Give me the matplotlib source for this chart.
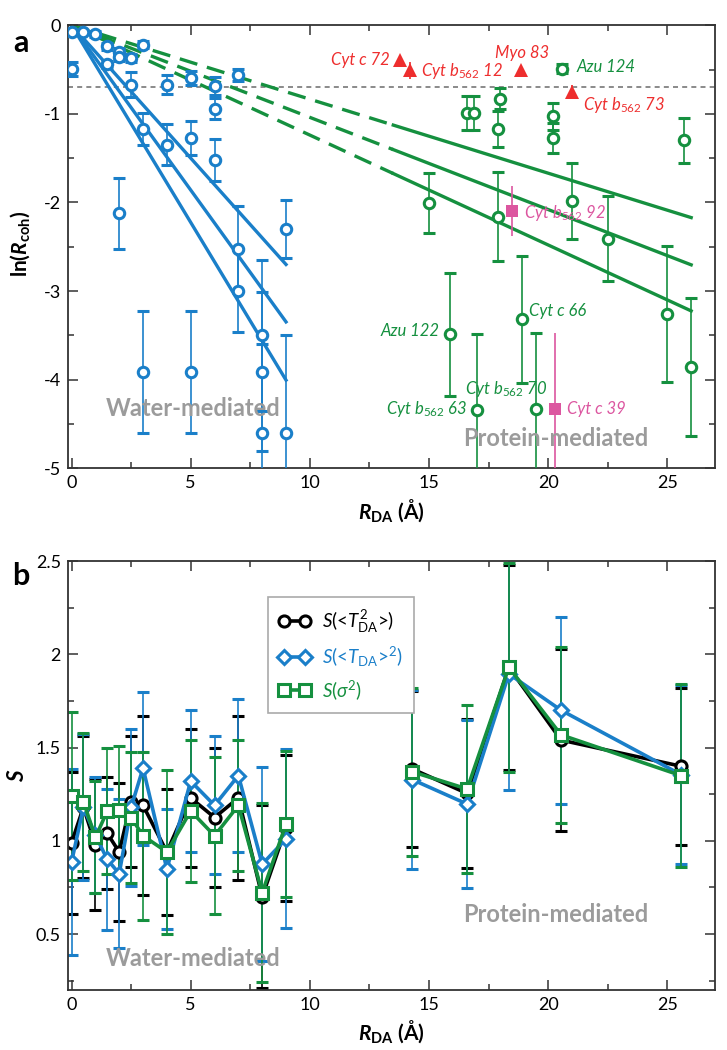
import numpy as np
import matplotlib
matplotlib.use('Agg')
import matplotlib.pyplot as plt
from matplotlib.lines import Line2D
from matplotlib.ticker import MultipleLocator, FuncFormatter

plt.rcParams['font.family'] = ['Lato', 'DejaVu Sans']
plt.rcParams['mathtext.fontset'] = 'custom'
plt.rcParams['mathtext.rm'] = 'Lato'
plt.rcParams['mathtext.it'] = 'Lato:italic'
plt.rcParams['mathtext.bf'] = 'Lato:bold'
plt.rcParams['mathtext.bfit'] = 'Lato:bold:italic'
plt.rcParams['axes.unicode_minus'] = False

BLUE = '#1a7fc9'
GREEN = '#15903f'
RED = '#ee2e2e'
MAGENTA = '#dc56a0'
GRAY = '#9b9b9b'

# ---- panel a data ----
water_r = [0.0, 0.0, 0.5, 1.0, 1.5, 1.5, 2.0, 2.0, 2.0, 2.5, 2.5, 3.0, 3.0, 3.0, 4.0, 4.0,
           5.0, 5.0, 5.0, 6.0, 6.0, 6.0, 7.0, 7.0, 7.0, 8.0, 8.0, 8.0, 9.0, 9.0]
water_ln = [-0.08, -0.49, -0.08, -0.10, -0.24, -0.44, -0.30, -0.36, -2.12, -0.37, -0.67, -0.22,
            -1.17, -3.91, -0.67, -1.35, -0.60, -1.27, -3.91, -0.69, -0.94, -1.52, -0.56, -2.52,
            -3.00, -3.50, -3.91, -4.60, -2.30, -4.60]
water_err = [0.02, 0.08, 0.02, 0.03, 0.04, 0.04, 0.04, 0.04, 0.40, 0.05, 0.14, 0.04, 0.18, 0.69,
             0.11, 0.23, 0.08, 0.19, 0.69, 0.10, 0.12, 0.24, 0.07, 0.48, 0.46, 0.85, 0.90, 1.00,
             0.33, 1.10]

prot_r = [20.6, 16.6, 16.9, 17.97, 17.9, 20.2, 20.2, 25.7, 15.0, 17.9, 21.0, 22.5, 25.0, 26.0,
          15.9, 18.9, 17.0, 19.5]
prot_ln = [-0.49, -0.99, -0.99, -0.83, -1.17, -1.03, -1.27, -1.30, -2.01, -2.16, -1.98, -2.41,
           -3.26, -3.86, -3.49, -3.32, -4.34, -4.33]
prot_err = [0.05, 0.19, 0.19, 0.12, 0.20, 0.15, 0.17, 0.25, 0.34, 0.50, 0.43, 0.48, 0.77, 0.78,
            0.69, 0.72, 0.86, 0.86]

red_r = [13.8, 14.2, 18.86, 21.0]
red_ln = [-0.39, -0.51, -0.51, -0.75]
red_err = [0.05, 0.10, 0.05, 0.07]

mag_r = [18.5, 20.3]
mag_ln = [-2.10, -4.33]
mag_err = [0.28, 0.86]

water_slopes = [-0.300, -0.372, -0.445]
prot_slopes = [-0.0835, -0.104, -0.124]

# ---- panel b data ----
bw_x = [0, 0.5, 1, 1.5, 2, 2.5, 3, 4, 5, 6, 7, 8, 9]
bp_x = [14.3, 16.6, 18.35, 20.54, 25.57]

sT2_w = [0.99, 1.18, 0.98, 1.04, 0.94, 1.21, 1.19, 0.94, 1.23, 1.125, 1.23, 0.70, 1.07]
sT2_w_err = [0.38, 0.38, 0.35, 0.30, 0.37, 0.35, 0.48, 0.34, 0.37, 0.37, 0.44, 0.49, 0.39]
sT2_p = [1.385, 1.254, 1.93, 1.54, 1.40]
sT2_p_err = [0.42, 0.40, 0.55, 0.49, 0.42]

sTsq_w = [0.887, 1.18, 1.03, 0.90, 0.824, 1.18, 1.39, 0.848, 1.32, 1.19, 1.35, 0.875, 1.01]
sTsq_w_err = [0.50, 0.39, 0.31, 0.38, 0.40, 0.42, 0.41, 0.32, 0.38, 0.37, 0.41, 0.52, 0.48]
sTsq_p = [1.328, 1.197, 1.895, 1.70, 1.355]
sTsq_p_err = [0.48, 0.45, 0.62, 0.50, 0.48]

ssig_w = [1.238, 1.21, 1.018, 1.16, 1.167, 1.125, 1.027, 0.94, 1.16, 1.027, 1.19, 0.722, 1.09]
ssig_w_err = [0.45, 0.37, 0.30, 0.34, 0.34, 0.35, 0.45, 0.44, 0.38, 0.42, 0.35, 0.48, 0.39]
ssig_p = [1.37, 1.278, 1.93, 1.568, 1.35]
ssig_p_err = [0.45, 0.45, 0.56, 0.47, 0.49]

fig = plt.figure(figsize=(7.27, 10.5), dpi=100)
axa = fig.add_axes([0.0935, 0.554, 0.890, 0.422])
axb = fig.add_axes([0.0935, 0.0571, 0.890, 0.4086])


def style_axis(ax):
    ax.tick_params(which='both', direction='in', top=True, right=True, width=1.1,
                   color='#333333', labelsize=13)
    ax.tick_params(which='major', length=7, pad=5)
    ax.tick_params(which='minor', length=4)
    for s in ax.spines.values():
        s.set_color('#333333')
        s.set_linewidth(1.3)


# ---------- panel a ----------
axa.axhline(np.log(0.5), color='#777777', lw=1.2, ls=(0, (3, 2.5)), zorder=1)

rw = np.array([0, 9])
for s in water_slopes:
    axa.plot(rw, s * rw, color=BLUE, lw=2.4, zorder=2)
rd = np.array([0, 13.5])
rs = np.array([13.5, 26])
for s in prot_slopes:
    axa.plot(rd, s * rd, color=GREEN, lw=2.4, dashes=(5.5, 3), zorder=2)
    axa.plot(rs, s * rs, color=GREEN, lw=2.4, zorder=2)

ekw = dict(elinewidth=1.2, capsize=4, capthick=1.2, zorder=3)
axa.errorbar(water_r, water_ln, yerr=water_err, fmt='o', color=BLUE, mfc='white',
             ms=7.5, mew=2.2, **ekw)
axa.errorbar(prot_r, prot_ln, yerr=prot_err, fmt='o', color=GREEN, mfc='white',
             ms=7.5, mew=2.2, **ekw)
axa.errorbar(red_r, red_ln, yerr=red_err, fmt='^', color=RED, ms=10, mew=0, **ekw)
axa.errorbar(mag_r, mag_ln, yerr=mag_err, fmt='s', color=MAGENTA, ms=8.5, mew=0, **ekw)

lab = dict(fontsize=12, style='italic', va='center')
axa.text(13.35, -0.39, 'Cyt c 72', color=RED, ha='right', **lab)
axa.text(14.65, -0.52, r'Cyt b$_{\mathit{562}}$ 12', color=RED, ha='left', **lab)
axa.text(18.9, -0.31, 'Myo 83', color=RED, ha='center', **lab)
axa.text(21.2, -0.47, 'Azu 124', color=GREEN, ha='left', **lab)
axa.text(21.45, -0.90, r'Cyt b$_{\mathit{562}}$ 73', color=RED, ha='left', **lab)
axa.text(19.0, -2.12, r'Cyt b$_{\mathit{562}}$ 92', color=MAGENTA, ha='left', **lab)
axa.text(15.45, -3.45, 'Azu 122', color=GREEN, ha='right', **lab)
axa.text(19.2, -3.22, 'Cyt c 66', color=GREEN, ha='left', **lab)
axa.text(16.6, -4.33, r'Cyt b$_{\mathit{562}}$ 63', color=GREEN, ha='right', **lab)
axa.text(19.95, -4.10, r'Cyt b$_{\mathit{562}}$ 70', color=GREEN, ha='right', **lab)
axa.text(20.8, -4.33, 'Cyt c 39', color=MAGENTA, ha='left', **lab)

axa.text(5.1, -4.32, 'Water-mediated', color=GRAY, fontsize=17, fontweight='bold',
         ha='center', va='center')
axa.text(20.3, -4.66, 'Protein-mediated', color=GRAY, fontsize=17, fontweight='bold',
         ha='center', va='center')

axa.set_xlim(-0.15, 27)
axa.set_ylim(-5, 0)
axa.xaxis.set_major_locator(MultipleLocator(5))
axa.xaxis.set_minor_locator(MultipleLocator(2.5))
axa.yaxis.set_major_locator(MultipleLocator(1))
axa.yaxis.set_minor_locator(MultipleLocator(0.5))
style_axis(axa)
axa.set_xlabel(r'$\mathbfit{R}_{\mathbf{DA}}$ (Å)', fontsize=15, fontweight='bold')
axa.xaxis.set_label_coords(0.5, -0.066)
axa.set_ylabel(r'$\mathbf{ln(}\mathbfit{R}_{\mathbf{coh}}\mathbf{)}$', fontsize=15)
axa.yaxis.set_label_coords(-0.055, 0.508)

# ---------- panel b ----------
series = [
    (sT2_w, sT2_w_err, sT2_p, sT2_p_err, 'black', 'o', 8, r'$S$(<$T^{2}_{\mathrm{DA}}$>)'),
    (sTsq_w, sTsq_w_err, sTsq_p, sTsq_p_err, BLUE, 'D', 7, r'$S$(<$T_{\mathrm{DA}}$>$^{2}$)'),
    (ssig_w, ssig_w_err, ssig_p, ssig_p_err, GREEN, 's', 8, r'$S$($\sigma^{2}$)'),
]
bkw = dict(elinewidth=1.2, capsize=4, capthick=1.2, lw=2.6, mfc='white', mew=2.2)
handles = []
for yw, ew, yp, ep, col, mk, ms, name in series:
    axb.errorbar(bw_x, yw, yerr=ew, color=col, marker=mk, ms=ms, **bkw)
    axb.errorbar(bp_x, yp, yerr=ep, color=col, marker=mk, ms=ms, **bkw)
    handles.append(Line2D([], [], color=col, marker=mk, ms=ms, lw=2.6, mfc='white',
                          mew=2.2, label=name))

leg = axb.legend(handles=handles, loc='upper left', bbox_to_anchor=(0.294, 0.937),
                 fontsize=13.5, numpoints=2, handlelength=1.7, fancybox=False,
                 framealpha=1, edgecolor='#aaaaaa', borderpad=0.6, labelspacing=0.5,
                 handletextpad=0.6)
leg.get_frame().set_linewidth(1.2)
for txt, h in zip(leg.get_texts(), handles):
    txt.set_color(h.get_color())

axb.text(5.1, 0.37, 'Water-mediated', color=GRAY, fontsize=17, fontweight='bold',
         ha='center', va='center')
axb.text(20.3, 0.607, 'Protein-mediated', color=GRAY, fontsize=17, fontweight='bold',
         ha='center', va='center')

axb.set_xlim(-0.15, 27)
axb.set_ylim(0.2, 2.5)
axb.xaxis.set_major_locator(MultipleLocator(5))
axb.xaxis.set_minor_locator(MultipleLocator(2.5))
axb.yaxis.set_major_locator(MultipleLocator(0.5))
axb.yaxis.set_minor_locator(MultipleLocator(0.25))
axb.yaxis.set_major_formatter(FuncFormatter(lambda v, p: '%g' % v))
style_axis(axb)
axb.set_xlabel(r'$\mathbfit{R}_{\mathbf{DA}}$ (Å)', fontsize=15, fontweight='bold')
axb.xaxis.set_label_coords(0.5, -0.066)
axb.set_ylabel(r'$\mathbfit{S}$', fontsize=16)
axb.yaxis.set_label_coords(-0.062, 0.5)

fig.text(21 / 727, 1 - 43 / 1050, 'a', fontsize=22, fontweight='bold', ha='center', va='center')
fig.text(21 / 727, 1 - 576 / 1050, 'b', fontsize=22, fontweight='bold', ha='center', va='center')

fig.savefig('out.png', dpi=100)
